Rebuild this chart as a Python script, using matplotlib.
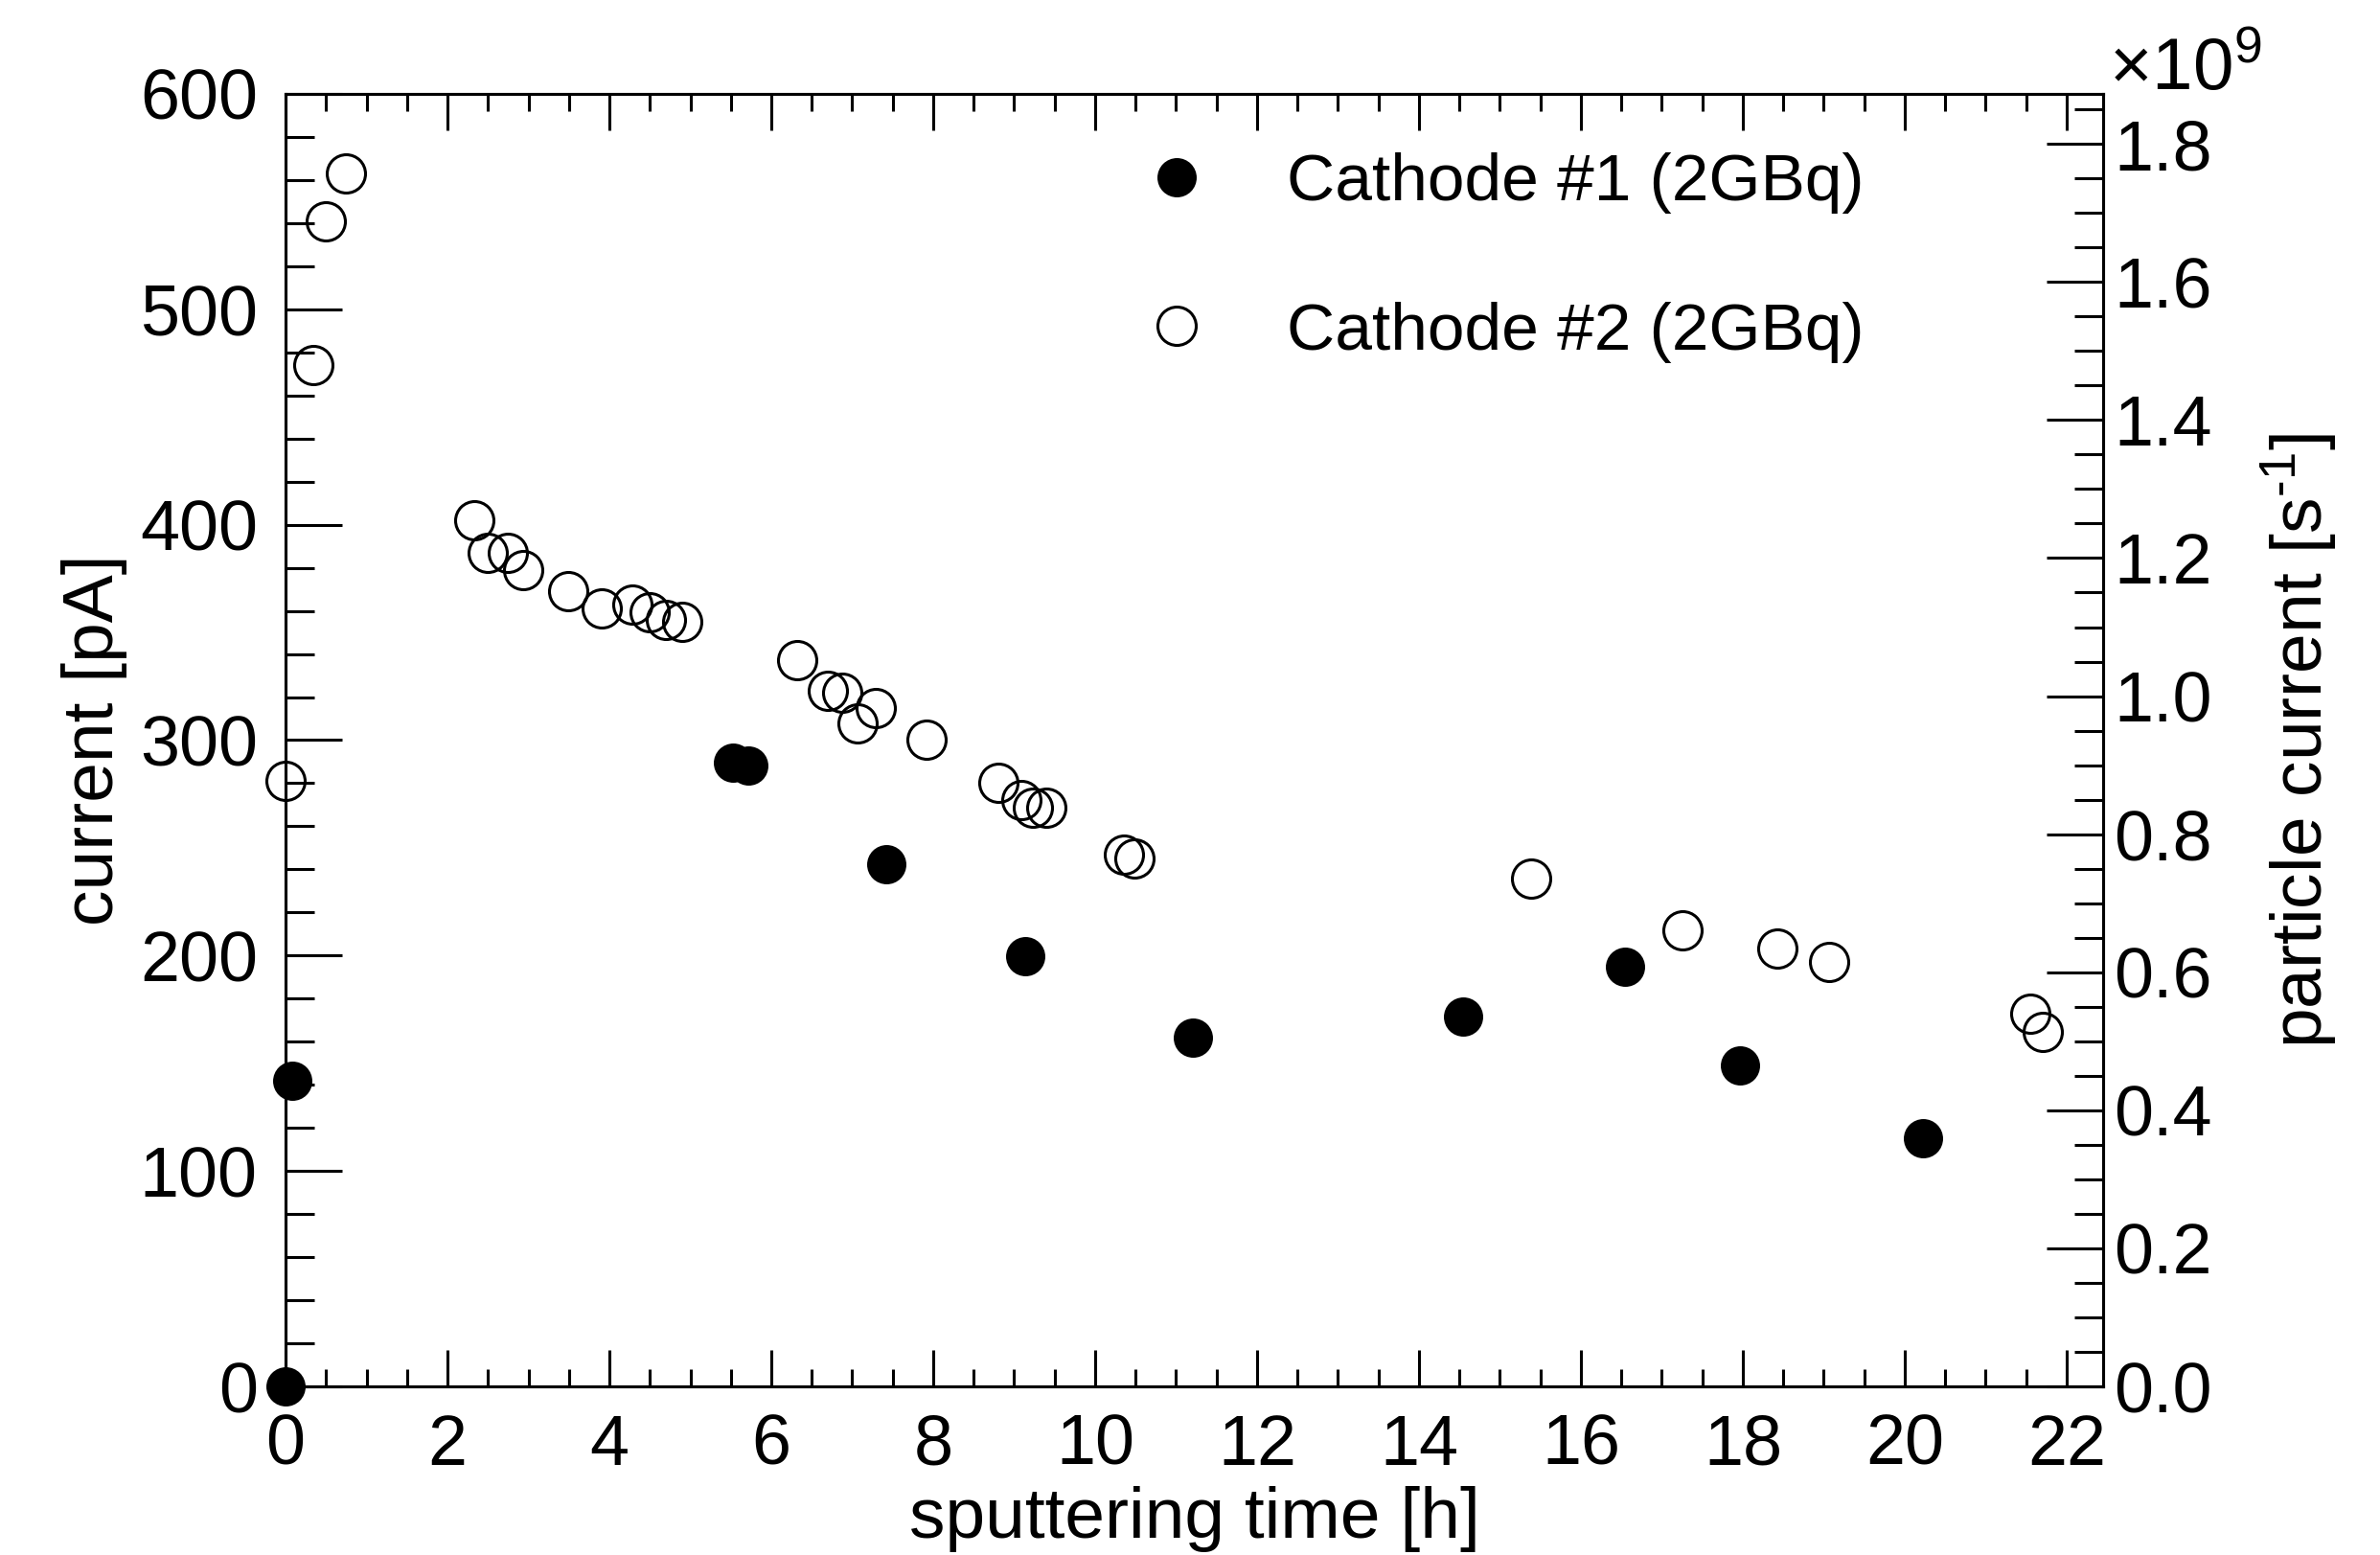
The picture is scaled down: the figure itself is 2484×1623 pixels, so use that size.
import matplotlib
matplotlib.use("Agg")
import matplotlib.pyplot as plt
from matplotlib.ticker import MultipleLocator, FormatStrFormatter

plt.rcParams["font.family"] = ["Liberation Sans", "DejaVu Sans"]
plt.rcParams["mathtext.fontset"] = "custom"
plt.rcParams["mathtext.rm"] = "Liberation Sans"
plt.rcParams["mathtext.it"] = "Liberation Sans:italic"

# cathode #1 (filled markers)
time_c1 = [0.0, 0.08, 5.53, 5.72, 7.42, 9.14, 11.21, 14.55, 16.54, 17.96, 20.23]
current_c1 = [0.0, 142.0, 289.6, 288.3, 242.6, 199.6, 161.8, 171.8, 195.0, 149.2, 115.1]

# cathode #2 (open markers)
time_c2 = [0.0, 0.34, 0.50, 0.75, 2.33, 2.50, 2.75, 2.93, 3.49, 3.91, 4.28, 4.50,
           4.70, 4.90, 6.32, 6.70, 6.88, 7.07, 7.29, 7.92, 8.80, 9.09, 9.23, 9.40,
           10.35, 10.48, 15.38, 17.26, 18.43, 19.07, 21.55, 21.71]
current_c2 = [281.0, 474.0, 541.0, 563.0, 402.0, 387.0, 387.0, 379.0, 369.0, 361.0,
              363.0, 359.5, 356.0, 355.0, 337.0, 323.0, 322.0, 308.0, 315.0, 300.0,
              280.0, 272.0, 268.5, 268.5, 247.0, 245.0, 235.6, 211.7, 203.3, 197.1,
              172.9, 164.7]

labels = ["Cathode #1 (2GBq)", "Cathode #2 (2GBq)"]

# current [pA] -> particle current [1e9 s^-1] for doubly charged ions
E_CHARGE = 1.602176634e-19
y_max = 600.0
y2_max = y_max * 1e-12 / (2 * E_CHARGE) / 1e9

fig = plt.figure(figsize=(24.84, 16.23), dpi=100)
ax = fig.add_axes([0.11997, 0.10844, 0.76369, 0.83118])

ax.plot(time_c1, current_c1, linestyle="none", marker="o", ms=29.5, mfc="black",
        mec="black", mew=0, clip_on=False, zorder=3, label=labels[0])
ax.plot(time_c2, current_c2, linestyle="none", marker="o", ms=28.8, mfc="none",
        mec="black", mew=2.2, clip_on=False, zorder=3, label=labels[1])

ax.set_xlim(0, 22.45)
ax.set_ylim(0, y_max)
ax.xaxis.set_major_locator(MultipleLocator(2))
ax.xaxis.set_minor_locator(MultipleLocator(0.5))
ax.yaxis.set_major_locator(MultipleLocator(100))
ax.yaxis.set_minor_locator(MultipleLocator(20))

ax2 = ax.twinx()
ax2.set_ylim(0, y2_max)
ax2.yaxis.set_major_locator(MultipleLocator(0.2))
ax2.yaxis.set_minor_locator(MultipleLocator(0.05))
ax2.yaxis.set_major_formatter(FormatStrFormatter("%.1f"))

ax.tick_params(axis="x", which="major", direction="in", length=27.4, width=2.2,
               top=True, labelsize=53, pad=20)
ax.tick_params(axis="x", which="minor", direction="in", length=13.2, width=2.2, top=True)
ax.tick_params(axis="y", which="major", direction="in", length=42.7, width=2.2,
               labelsize=53, pad=21)
ax.tick_params(axis="y", which="minor", direction="in", length=21.6, width=2.2)
ax2.tick_params(axis="y", which="major", direction="in", length=42.7, width=2.2,
                labelsize=53, pad=8)
ax2.tick_params(axis="y", which="minor", direction="in", length=21.6, width=2.2)

for a in (ax, ax2):
    for s in a.spines.values():
        s.set_linewidth(2.2)

fig.text(0.5018, 0.0228, "sputtering time [h]", ha="center", va="center", fontsize=54)
fig.text(0.0395, 0.524, "current [pA]", rotation=90, ha="center", va="center", fontsize=54)
fig.text(0.9662, 0.524, r"particle current [s$^{\text{-}1}$]", rotation=90, ha="center",
         va="center", fontsize=54)
fig.text(0.8860, 0.9421, r"×10$^{9}$", ha="left", va="baseline", fontsize=55)

ax.legend(loc="upper left", bbox_to_anchor=(0.4804, 0.9021),
          bbox_transform=fig.transFigure, frameon=False, fontsize=50,
          borderpad=0, borderaxespad=0, handlelength=1.0, handletextpad=1.16,
          labelspacing=1.32)

fig.savefig("out.png", dpi=100)
